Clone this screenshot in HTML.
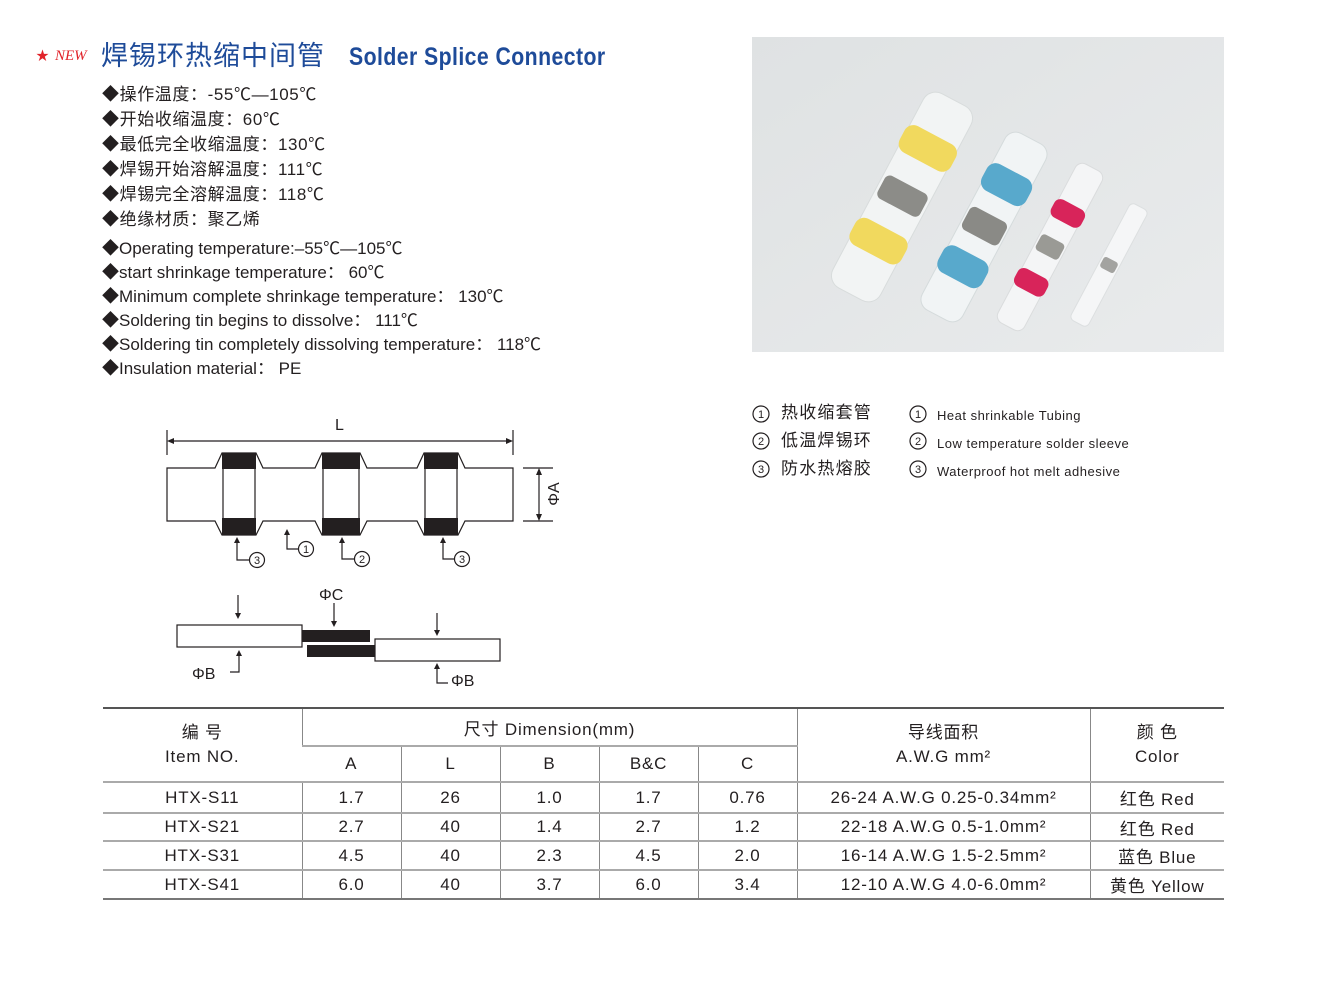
<!DOCTYPE html>
<html><head><meta charset="utf-8">
<style>
body{margin:0;background:#fff;width:1342px;height:1008px;position:relative;overflow:hidden;font-family:"Liberation Sans","Noto Sans CJK SC",sans-serif;color:#231f20}
.a{position:absolute;white-space:nowrap;line-height:20px}
.cn{font-size:17px;letter-spacing:0.6px}
.en{font-size:17px;letter-spacing:0px}
table{position:absolute;left:103px;top:707px;border-collapse:collapse;font-size:17px;letter-spacing:0.8px}
td{text-align:center;padding:0;border-left:1px solid #888;border-top:2px solid #aaa}
td:first-child{border-left:none}
</style></head><body>
<div class="a" style="left:36px;top:46px;color:#e1232a;font-size:13px">★</div>
<div class="a" style="left:55px;top:46px;color:#e1232a;font-size:15px;font-style:italic;font-family:'Liberation Serif',serif">NEW</div>
<div class="a" style="left:101px;top:40px;line-height:32px;color:#1e4b99;font-size:27px;letter-spacing:1px">焊锡环热缩中间管</div>
<div class="a" style="left:349px;top:42px;line-height:30px;color:#1e4b99;font-size:25px;font-weight:bold;transform:scaleX(0.85);transform-origin:0 0;letter-spacing:0.5px">Solder Splice Connector</div>

<div class="a cn" style="left:102px;top:85px">◆操作温度：-55℃—105℃</div>
<div class="a cn" style="left:102px;top:110px">◆开始收缩温度：60℃</div>
<div class="a cn" style="left:102px;top:135px">◆最低完全收缩温度：130℃</div>
<div class="a cn" style="left:102px;top:160px">◆焊锡开始溶解温度：111℃</div>
<div class="a cn" style="left:102px;top:185px">◆焊锡完全溶解温度：118℃</div>
<div class="a cn" style="left:102px;top:210px">◆绝缘材质：聚乙烯</div>

<div class="a en" style="left:102px;top:239px">◆Operating temperature:–55℃—105℃</div>
<div class="a en" style="left:102px;top:263px">◆start shrinkage temperature： 60℃</div>
<div class="a en" style="left:102px;top:287px">◆Minimum complete shrinkage temperature： 130℃</div>
<div class="a en" style="left:102px;top:311px">◆Soldering tin begins to dissolve： 111℃</div>
<div class="a en" style="left:102px;top:335px">◆Soldering tin completely dissolving temperature： 118℃</div>
<div class="a en" style="left:102px;top:359px">◆Insulation material： PE</div>

<!-- photo -->
<svg style="position:absolute;left:752px;top:37px" width="472" height="315" viewBox="0 0 472 315">
<defs><linearGradient id="bg" x1="0" y1="0" x2="1" y2="1"><stop offset="0" stop-color="#dfe2e3"/><stop offset="1" stop-color="#e9ebec"/></linearGradient></defs>
<rect width="472" height="315" fill="url(#bg)"/>
<g transform="translate(150,160) rotate(-62)">
<rect x="-110" y="-27" width="220" height="54" rx="14" fill="#f2f4f4" stroke="#d8dcdc"/>
<rect x="40" y="-29" width="30" height="58" rx="10" fill="#f1d95e"/>
<rect x="-65" y="-29" width="30" height="58" rx="10" fill="#f1d95e"/>
<rect x="-12" y="-24" width="26" height="48" rx="6" fill="#8c8c88"/>
</g>
<g transform="translate(232,190) rotate(-62)">
<rect x="-100" y="-23" width="200" height="46" rx="12" fill="#f1f4f5" stroke="#d5dbdc"/>
<rect x="33" y="-25" width="30" height="50" rx="10" fill="#58a9cc"/>
<rect x="-60" y="-25" width="30" height="50" rx="10" fill="#58a9cc"/>
<rect x="-12" y="-21" width="26" height="42" rx="6" fill="#8a8a86"/>
</g>
<g transform="translate(298,210) rotate(-62)">
<rect x="-90" y="-15" width="180" height="30" rx="8" fill="#f4f5f6" stroke="#dadcdd"/>
<rect x="28" y="-17" width="20" height="34" rx="7" fill="#d8245a"/>
<rect x="-50" y="-17" width="20" height="34" rx="7" fill="#d8245a"/>
<rect x="-9" y="-13" width="18" height="26" rx="4" fill="#9a9a95"/>
</g>
<g transform="translate(357,228) rotate(-62)">
<rect x="-66" y="-10" width="132" height="20" rx="5" fill="#f5f6f7" stroke="#dcdfe0"/>
<rect x="-6" y="-8" width="12" height="16" rx="3" fill="#a3a3a0"/>
</g>
</svg>

<!-- legend -->
<svg style="position:absolute;left:745px;top:400px" width="200" height="90">
<g fill="none" stroke="#231f20" stroke-width="1.2"><circle cx="16" cy="14" r="8"/><circle cx="16" cy="41" r="8"/><circle cx="16" cy="69" r="8"/>
<circle cx="173" cy="14" r="8"/><circle cx="173" cy="41" r="8"/><circle cx="173" cy="69" r="8"/></g>
<g font-size="11" text-anchor="middle" fill="#231f20" font-family="Liberation Sans"><text x="16" y="18">1</text><text x="16" y="45">2</text><text x="16" y="73">3</text><text x="173" y="18">1</text><text x="173" y="45">2</text><text x="173" y="73">3</text></g>
</svg>
<div class="a" style="left:781px;top:403px;font-size:17px;letter-spacing:1.2px">热收缩套管</div>
<div class="a" style="left:781px;top:431px;font-size:17px;letter-spacing:1.2px">低温焊锡环</div>
<div class="a" style="left:781px;top:459px;font-size:17px;letter-spacing:1.2px">防水热熔胶</div>
<div class="a" style="left:937px;top:406px;font-size:13px;letter-spacing:0.5px">Heat shrinkable Tubing</div>
<div class="a" style="left:937px;top:434px;font-size:13px;letter-spacing:0.5px">Low temperature solder sleeve</div>
<div class="a" style="left:937px;top:462px;font-size:13px;letter-spacing:0.5px">Waterproof hot melt adhesive</div>

<!-- diagram -->
<svg style="position:absolute;left:0;top:0" width="700" height="700" font-family="Liberation Sans" fill="#231f20">
<g stroke="#231f20" stroke-width="1.2" fill="none">
<line x1="167" y1="430" x2="167" y2="455"/><line x1="513" y1="430" x2="513" y2="455"/>
<line x1="170" y1="441" x2="510" y2="441"/>
<path d="M167 468 H215 L222 453 H256 L263 468 H315 L322 453 H360 L367 468 H417 L424 453 H458 L465 468 H513 V521 H465 L458 535 H424 L417 521 H367 L360 535 H322 L315 521 H263 L256 535 H222 L215 521 H167 Z"/>
<line x1="223" y1="469" x2="223" y2="518"/><line x1="255" y1="469" x2="255" y2="518"/>
<line x1="323" y1="469" x2="323" y2="518"/><line x1="359" y1="469" x2="359" y2="518"/>
<line x1="425" y1="469" x2="425" y2="518"/><line x1="457" y1="469" x2="457" y2="518"/>
<line x1="523" y1="468" x2="553" y2="468"/><line x1="523" y1="521" x2="553" y2="521"/>
<line x1="539" y1="472" x2="539" y2="517"/>
<path d="M237 541 V560 H249"/><path d="M287 533 V549 H298"/><path d="M342 541 V559 H354"/><path d="M443 541 V559 H454"/>
<circle cx="257" cy="560" r="7.5"/><circle cx="306" cy="549" r="7.5"/><circle cx="362" cy="559" r="7.5"/><circle cx="462" cy="559" r="7.5"/>
<rect x="177" y="625" width="125" height="22"/><rect x="375" y="639" width="125" height="22"/>
<line x1="238" y1="595" x2="238" y2="616"/><line x1="334" y1="603" x2="334" y2="624"/><line x1="437" y1="613" x2="437" y2="632"/>
<path d="M239 654 V672 H230"/><path d="M437 667 V683 H448"/>
</g>
<g>
<path d="M167 441 l7 -3 v6z"/><path d="M513 441 l-7 -3 v6z"/>
<path d="M539 468 l-3 7 h6z"/><path d="M539 521 l-3 -7 h6z"/>
<path d="M237 537 l-3 6 h6z"/><path d="M287 529 l-3 6 h6z"/><path d="M342 537 l-3 6 h6z"/><path d="M443 537 l-3 6 h6z"/>
<path d="M238 619 l-3 -6 h6z"/><path d="M334 627 l-3 -6 h6z"/><path d="M437 636 l-3 -6 h6z"/>
<path d="M239 650 l-3 6 h6z"/><path d="M437 663 l-3 6 h6z"/>
<rect x="222" y="453" width="34" height="16"/><rect x="222" y="518" width="34" height="17"/>
<rect x="322" y="453" width="38" height="16"/><rect x="322" y="518" width="38" height="17"/>
<rect x="424" y="453" width="34" height="16"/><rect x="424" y="518" width="34" height="17"/>
<rect x="302" y="630" width="68" height="12"/><rect x="307" y="645" width="68" height="12"/>
</g>
<text x="335" y="430" font-size="16">L</text>
<text transform="translate(559,494) rotate(-90)" font-size="16" text-anchor="middle">ΦA</text>
<g font-size="11" text-anchor="middle"><text x="257" y="564">3</text><text x="306" y="553">1</text><text x="362" y="563">2</text><text x="462" y="563">3</text></g>
<text x="319" y="600" font-size="16">ΦC</text>
<text x="192" y="679" font-size="16">ΦB</text>
<text x="451" y="686" font-size="16">ΦB</text>
</svg>

<table>
<colgroup><col style="width:199px"><col style="width:99px"><col style="width:99px"><col style="width:99px"><col style="width:99px"><col style="width:99px"><col style="width:293px"><col style="width:134px"></colgroup>
<tr style="height:38px"><td rowspan="2" style="border-top:2px solid #555;line-height:24px">编 号<br>Item NO.</td><td colspan="5" style="border-top:2px solid #555">尺寸 Dimension(mm)</td><td rowspan="2" style="border-top:2px solid #555;line-height:24px">导线面积<br>A.W.G mm²</td><td rowspan="2" style="border-top:2px solid #555;line-height:24px">颜 色<br>Color</td></tr>
<tr style="height:36px"><td>A</td><td>L</td><td>B</td><td>B&amp;C</td><td>C</td></tr>
<tr style="height:31px"><td>HTX-S11</td><td>1.7</td><td>26</td><td>1.0</td><td>1.7</td><td>0.76</td><td>26-24 A.W.G 0.25-0.34mm²</td><td>红色 Red</td></tr>
<tr style="height:28px"><td>HTX-S21</td><td>2.7</td><td>40</td><td>1.4</td><td>2.7</td><td>1.2</td><td>22-18 A.W.G 0.5-1.0mm²</td><td>红色 Red</td></tr>
<tr style="height:29px"><td>HTX-S31</td><td>4.5</td><td>40</td><td>2.3</td><td>4.5</td><td>2.0</td><td>16-14 A.W.G 1.5-2.5mm²</td><td>蓝色 Blue</td></tr>
<tr style="height:29px;border-bottom:2px solid #777"><td>HTX-S41</td><td>6.0</td><td>40</td><td>3.7</td><td>6.0</td><td>3.4</td><td>12-10 A.W.G 4.0-6.0mm²</td><td>黄色 Yellow</td></tr>
</table>
</body></html>
